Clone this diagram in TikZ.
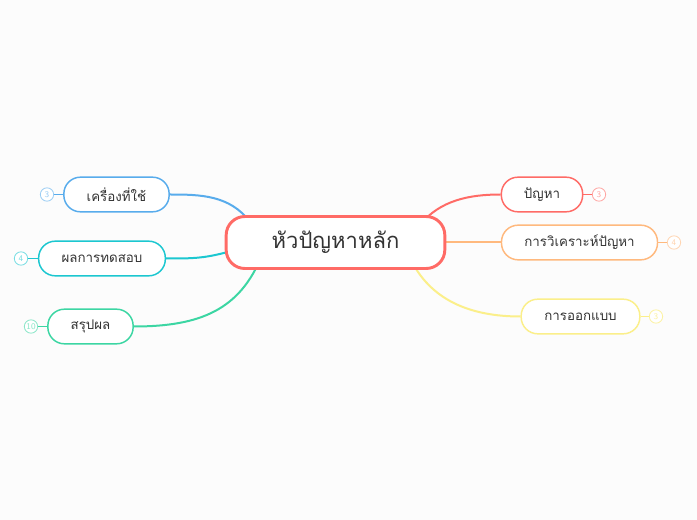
\documentclass[tikz,border=0pt]{standalone}
\usepackage{fontspec}
\newfontfamily\thaifont[Script=Thai]{Loma}
\usetikzlibrary{backgrounds}

\definecolor{bgcol}{HTML}{FCFCFC}
\definecolor{txtcol}{HTML}{333333}
\definecolor{redcol}{HTML}{FF6B66}
\definecolor{bluecol}{HTML}{58ACEC}
\definecolor{tealcol}{HTML}{1CC7D0}
\definecolor{greencol}{HTML}{3CD6A3}
\definecolor{orangecol}{HTML}{FFB97E}
\definecolor{yellowcol}{HTML}{FBEF8A}

\begin{document}
\begin{tikzpicture}[x=0.75pt, y=-0.75pt,
    topic/.style={draw, fill=white, line width=1.1pt, rounded corners=12.5pt, minimum height=26pt, inner sep=0pt, font=\thaifont\fontsize{10}{12}\selectfont, text=txtcol},
    count/.style={circle, draw, fill=white, line width=0.6pt, minimum size=10pt, inner sep=0pt, font=\sffamily\fontsize{6.5}{7}\selectfont},
    link/.style={line width=1.5pt}]
    \useasboundingbox (0,0) rectangle (697,520);
    % main topic
    \node[draw=redcol, fill=white, line width=2.2pt, rounded corners=14pt, minimum width=164pt, minimum height=39pt, text=txtcol, font=\thaifont\fontsize{16.5}{19}\selectfont] (main) at (335.5,242.5) {หัวปัญหาหลัก};
    % left side
    \node[topic, draw=bluecol, minimum width=79pt] (tool) at (116.5,194.5) {เครื่องที่ใช้};
    \node[topic, draw=tealcol, minimum width=95pt] (result) at (102,258.5) {ผลการทดสอบ};
    \node[topic, draw=greencol, minimum width=64pt] (summary) at (90.5,326.5) {สรุปผล};
    % right side
    \node[topic, draw=redcol, minimum width=61pt] (problem) at (542,194.5) {ปัญหา};
    \node[topic, draw=orangecol, minimum width=117pt] (analysis) at (579.5,242.5) {การวิเคราะห์ปัญหา};
    \node[topic, draw=yellowcol, minimum width=89pt] (design) at (580.5,316.5) {การออกแบบ};
    % counters
    \node[count, draw=bluecol!60, text=bluecol!60] (toolnum) at (47,194.5) {3};
    \node[count, draw=tealcol!60, text=tealcol!60] (resultnum) at (21,258.5) {4};
    \node[count, draw=greencol!60, text=greencol!60] (summarynum) at (31,326.5) {10};
    \node[count, draw=redcol!60, text=redcol!60] (problemnum) at (599,194.5) {3};
    \node[count, draw=orangecol!60, text=orangecol!60] (analysisnum) at (674,242.5) {4};
    \node[count, draw=yellowcol!80, text=yellowcol!80] (designnum) at (656,316.5) {3};
    \draw[bluecol, line width=0.8pt] (tool.west) -- (toolnum.east);
    \draw[tealcol, line width=0.8pt] (result.west) -- (resultnum.east);
    \draw[greencol, line width=0.8pt] (summary.west) -- (summarynum.east);
    \draw[redcol, line width=0.8pt] (problem.east) -- (problemnum.west);
    \draw[orangecol, line width=0.8pt] (analysis.east) -- (analysisnum.west);
    \draw[yellowcol, line width=0.8pt] (design.east) -- (designnum.west);
    % branches
    \begin{scope}[on background layer]
        \fill[bgcol] (0,0) rectangle (697,520);
        \draw[link, bluecol] (250,222) .. controls (230,195) and (200,194.5) .. (tool.east);
        \draw[link, tealcol] (235,250) .. controls (205,258.5) and (195,258.5) .. (result.east);
        \draw[link, greencol] (262,255) .. controls (240,310) and (200,326.5) .. (summary.east);
        \draw[link, redcol] (420,225) .. controls (440,200) and (470,194.5) .. (problem.west);
        \draw[link, orangecol] (main.east) -- (analysis.west);
        \draw[link, yellowcol] (410,258) .. controls (430,300) and (470,316.5) .. (design.west);
    \end{scope}
\end{tikzpicture}
\end{document}
